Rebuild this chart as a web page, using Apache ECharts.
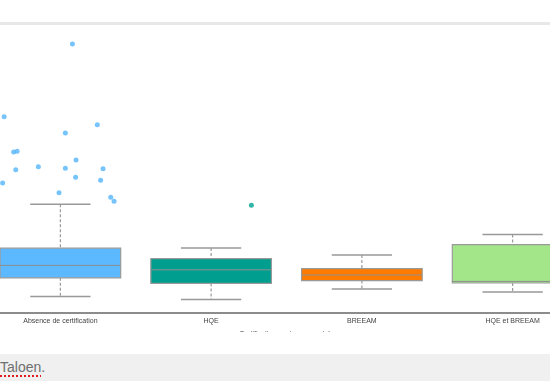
<!DOCTYPE html>
<html>
<head>
<meta charset="utf-8">
<script src="https://cdn.jsdelivr.net/npm/echarts@6/dist/echarts.min.js"></script>
<style>
  html, body { margin:0; padding:0; width:550px; height:385px; overflow:hidden; background:#fff; }
  #topline { position:absolute; left:0; top:22px; width:550px; height:3px; background:#e8e8e8; }
  #chart { position:absolute; left:-15.4px; top:25px; width:603px; height:307px; }
  #band { position:absolute; left:0; top:354px; width:550px; height:27px; background:#f0f0f0;
          font-family:"Liberation Sans", Arial, sans-serif; font-size:14px; color:#6f6f6f; line-height:27px; }
  #band span { text-decoration: underline dotted #e01b1b; text-decoration-thickness:2px; text-underline-offset:3px; }
</style>
</head>
<body>
<div id="topline"></div>
<div id="chart"></div>
<div id="band"><span>Taloen</span>.</div>
<script>
const categories = ['Absence de certification', 'HQE', 'BREEAM', 'HQE et BREEAM'];
const boxMin    = [41, 34, 60, 52.5];
const boxQ1     = [88, 74, 81, 75];
const boxMedian = [119, 108, 95, 79];
const boxQ3     = [162, 136, 111, 171];
const boxMax    = [272, 162.5, 145, 196];
const boxColors = ['#5cb8ff', '#009e8f', '#ff7b00', '#a3e68a'];
const outlierColors = ['#55b5fb', '#00a391', '#ff7b00', '#a3e68a'];

// outliers: category index, horizontal jitter (in band units), value
const outlierCat    = [0, 0, 0, 0, 0, 0, 0, 0, 0, 0, 0, 0, 0, 0, 0, 0, 0, 1];
const outlierJitter = [0.08, -0.373, 0.245, 0.033, -0.31, -0.287, 0.104, -0.146, -0.296, 0.033, 0.283, 0.101, -0.383, 0.267, -0.009, 0.334, 0.356, 0.267];
const outlierValue  = [672.5, 490.75, 470.75, 450, 402.5, 404.25, 382.5, 365.75, 358.25, 361.75, 360.75, 339.25, 325, 331.75, 300.75, 289.25, 279.25, 269.25];

const axisName = 'Certification environnementale';

const boxData = categories.map((c, i) => [i, boxMin[i], boxQ1[i], boxMedian[i], boxQ3[i], boxMax[i]]);
const outlierData = outlierCat.map((c, k) => ({
  value: [c + outlierJitter[k], outlierValue[k]],
  itemStyle: { color: outlierColors[c] }
}));

const chart = echarts.init(document.getElementById('chart'));
chart.setOption({
  animation: false,
  backgroundColor: '#fff',
  grid: { left: 0, right: 0, top: 8, bottom: 19, containLabel: false, outerBoundsMode: 'none' },
  xAxis: [{
    type: 'category',
    data: categories,
    name: axisName,
    nameLocation: 'middle',
    nameGap: 18,
    nameTextStyle: { fontSize: 7, color: '#333', fontFamily: 'Liberation Sans' },
    axisLine: { lineStyle: { color: '#8c8c8c', width: 2 } },
    axisTick: { alignWithLabel: true, length: 3, lineStyle: { color: '#666' } },
    axisLabel: { fontSize: 7, color: '#444', margin: 5, fontFamily: 'Liberation Sans' },
    splitLine: { show: false }
  }, {
    type: 'value',
    min: -0.5, max: 3.5,
    show: false
  }],
  yAxis: {
    type: 'value', min: 0, max: 700, show: false,
    splitLine: { show: false }
  },
  series: [{
    type: 'custom',
    xAxisIndex: 0,
    data: boxData,
    encode: { x: 0, y: [1, 2, 3, 4, 5] },
    renderItem: function (params, api) {
      const i = api.value(0);
      const band = api.size([1, 0])[0];
      const bw = band * 0.8, cw = band * 0.4;
      const cx = api.coord([i, api.value(3)])[0];
      const yMin = api.coord([i, api.value(1)])[1];
      const yQ1 = api.coord([i, api.value(2)])[1];
      const yMed = api.coord([i, api.value(3)])[1];
      const yQ3 = api.coord([i, api.value(4)])[1];
      const yMax = api.coord([i, api.value(5)])[1];
      const grey = '#999';
      return {
        type: 'group',
        children: [
          { type: 'line', shape: { x1: cx, y1: yMax, x2: cx, y2: yQ3 }, style: { stroke: grey, lineWidth: 1.2, lineDash: [3, 2] } },
          { type: 'line', shape: { x1: cx, y1: yQ1, x2: cx, y2: yMin }, style: { stroke: grey, lineWidth: 1.2, lineDash: [3, 2] } },
          { type: 'line', shape: { x1: cx - cw / 2, y1: yMax, x2: cx + cw / 2, y2: yMax }, style: { stroke: grey, lineWidth: 1.5 } },
          { type: 'line', shape: { x1: cx - cw / 2, y1: yMin, x2: cx + cw / 2, y2: yMin }, style: { stroke: grey, lineWidth: 1.5 } },
          { type: 'rect', shape: { x: cx - bw / 2, y: yQ3, width: bw, height: yQ1 - yQ3 }, style: { fill: boxColors[i], stroke: '#999', lineWidth: 1.2 } },
          { type: 'line', shape: { x1: cx - bw / 2, y1: yMed, x2: cx + bw / 2, y2: yMed }, style: { stroke: '#8f8f8f', lineWidth: 1 } }
        ]
      };
    }
  }, {
    type: 'scatter',
    xAxisIndex: 1,
    data: outlierData,
    symbolSize: 5
  }]
});
</script>
</body>
</html>
